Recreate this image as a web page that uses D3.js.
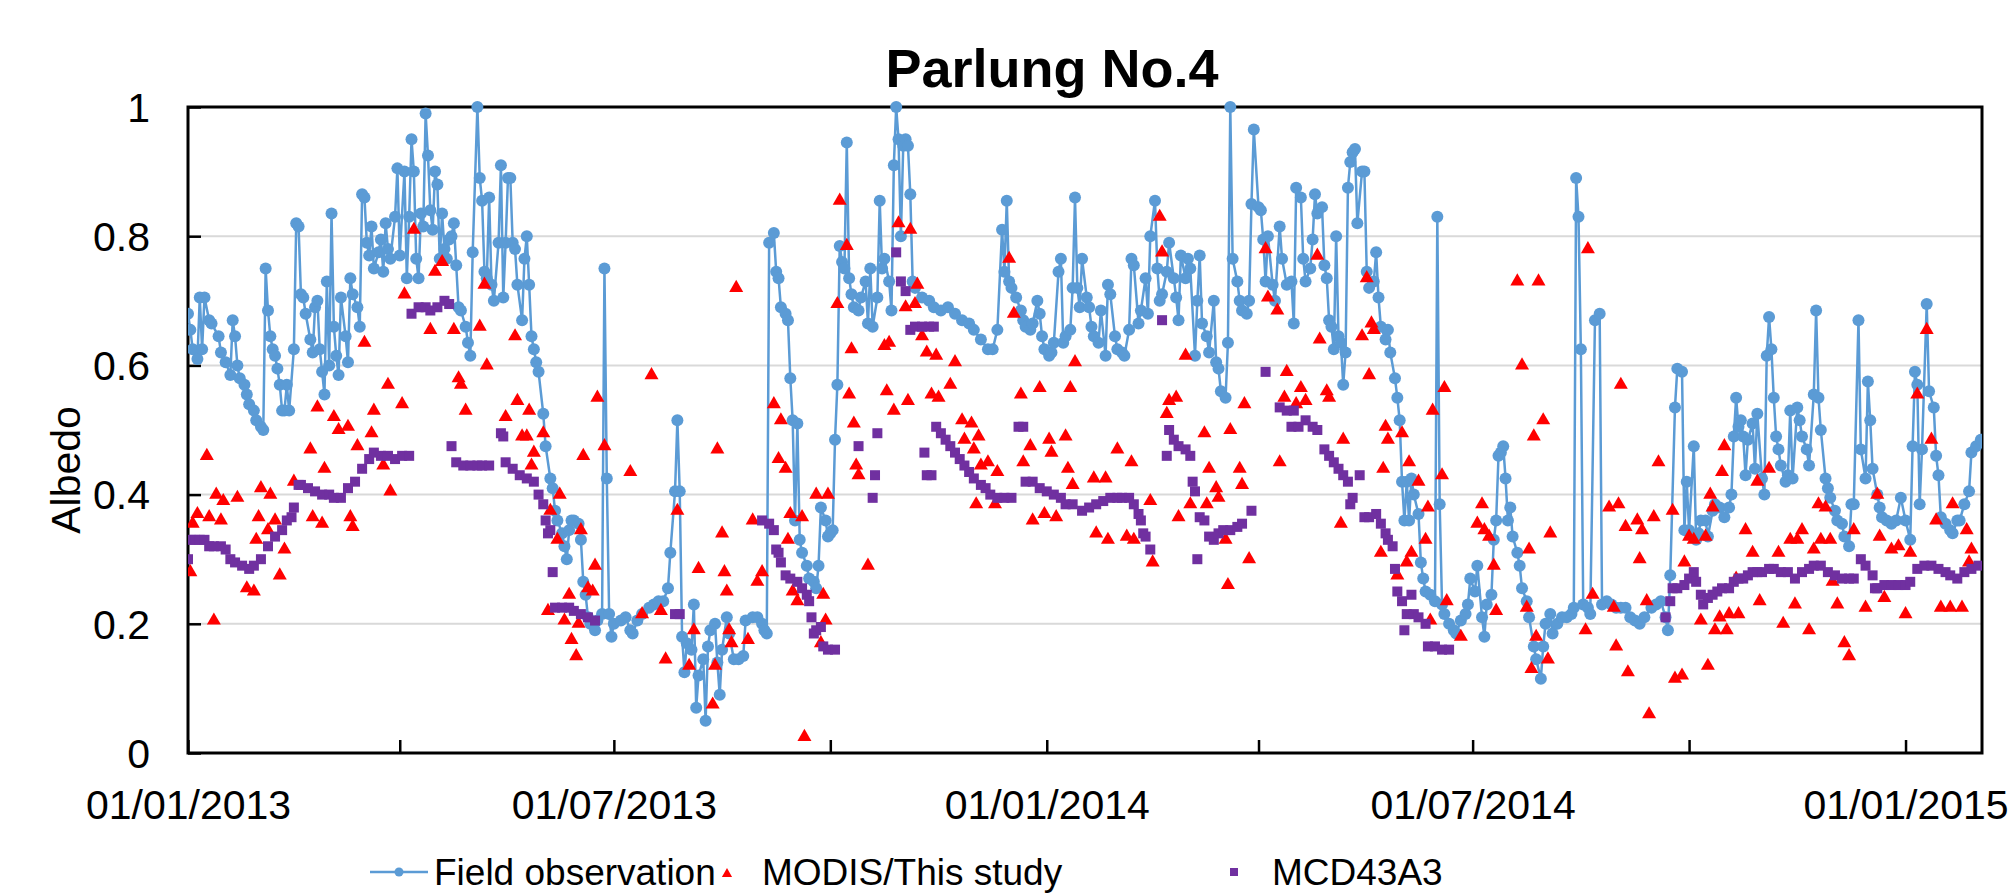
<!DOCTYPE html>
<html>
<head>
<meta charset="utf-8">
<script src="https://cdn.jsdelivr.net/npm/d3@7"></script>
<style>
  body { margin: 0; background: #fff; }
  text { font-family: "Liberation Sans", Arial, sans-serif; }
</style>
</head>
<body>
<svg id="chart" width="2014" height="894"></svg>
<script>
// values: [days since 01/01/2013, albedo]
const fieldObs = [[0,.68],[1,.655],[2,.625],[4,.61],[5,.705],[6,.625],[7,.705],[9,.67],[10,.665],[13,.645],[14,.62],[16,.605],[18,.585],[19,.67],[20,.645],[21,.60],[22,.58],[24,.57],[25,.555],[26,.54],[28,.53],[29,.515],[31,.505],[32,.50],[33,.75],[34,.685],[35,.645],[36,.625],[37,.615],[38,.595],[39,.57],[40,.53],[41,.53],[42,.57],[43,.53],[45,.625],[46,.82],[47,.815],[48,.71],[49,.705],[50,.68],[52,.64],[53,.62],[54,.69],[55,.70],[56,.625],[57,.59],[58,.555],[59,.73],[60,.60],[61,.835],[62,.66],[63,.615],[64,.585],[65,.705],[67,.645],[68,.605],[69,.735],[70,.71],[72,.69],[73,.66],[74,.865],[75,.86],[76,.79],[77,.77],[78,.815],[79,.75],[81,.775],[82,.795],[83,.745],[84,.82],[85,.78],[86,.765],[88,.83],[89,.905],[90,.77],[92,.90],[93,.735],[94,.83],[95,.95],[96,.90],[97,.765],[98,.735],[99,.835],[100,.815],[101,.99],[102,.925],[103,.84],[104,.81],[105,.90],[106,.88],[107,.765],[108,.835],[109,.78],[110,.765],[111,.795],[112,.80],[113,.82],[114,.755],[115,.69],[116,.685],[118,.66],[119,.635],[120,.615],[121,.775],[123,1.0],[124,.89],[125,.855],[126,.745],[127,.735],[128,.86],[129,.725],[130,.70],[132,.79],[133,.91],[134,.705],[135,.79],[136,.89],[137,.89],[138,.79],[139,.78],[140,.725],[142,.67],[143,.765],[144,.80],[145,.725],[146,.645],[147,.625],[148,.605],[149,.59],[151,.525],[152,.475],[154,.425],
  [155,.41],[156,.375],[157,.36],[159,.34],[160,.32],[161,.30],[162,.345],[163,.36],[164,.36],[166,.355],[167,.33],[168,.265],[169,.245],[170,.21],[171,.20],[173,.19],[174,.205],[176,.215],[177,.75],[178,.425],[179,.215],[180,.18],[181,.20],[184,.205],[186,.21],[188,.19],[189,.185],[191,.205],[193,.215],[196,.225],[198,.23],[200,.235],[202,.235],[204,.255],[205,.31],[207,.405],[208,.515],[209,.405],[210,.18],[211,.125],[212,.17],[214,.16],[215,.23],[216,.07],[217,.12],[219,.145],[220,.05],[221,.165],[222,.19],[224,.20],[225,.14],[226,.09],[227,.16],[229,.21],[230,.185],[232,.145],[234,.145],[236,.15],[237,.205],[240,.21],[242,.21],[244,.20],[245,.19],[246,.185],[247,.79],[249,.805],[250,.745],[251,.735],[252,.69],[254,.68],[255,.67],[256,.58],[257,.515],[258,.36],[259,.51],[260,.33],[261,.31],[263,.29],[264,.27],[266,.265],[267,.255],[268,.29],[269,.38],[271,.36],[272,.335],[273,.34],[274,.345],[275,.485],[276,.57],[277,.785],[278,.76],[279,.75],[280,.945],[281,.735],[282,.71],[283,.69],[285,.685],[286,.705],[288,.73],[289,.665],[290,.75],[291,.66],[293,.705],[294,.855],[295,.75],[296,.765],[298,.73],[299,.685],[300,.91],[301,1.0],[302,.95],[303,.80],[304,.94],[305,.95],[306,.94],[307,.865],[308,.73],[309,.72],
  [312,.705],[315,.70],[317,.69],[320,.685],[323,.69],[326,.68],[329,.67],[332,.665],[334,.655],[337,.64],[340,.625],[342,.625],[344,.655],[346,.81],[347,.745],[348,.855],[349,.73],[350,.72],[352,.705],[354,.685],[355,.67],[356,.66],[358,.655],[359,.665],[361,.70],[362,.68],[363,.645],[364,.625],[366,.615],[367,.62],[368,.635],[370,.745],[371,.765],[372,.635],[373,.645],[375,.655],[376,.72],[377,.86],[378,.72],[379,.69],[380,.765],[382,.705],[383,.69],[384,.66],[385,.645],[387,.635],[388,.685],[390,.615],[391,.725],[392,.71],[394,.645],[395,.625],[397,.62],[398,.615],[400,.655],[401,.765],[402,.755],[404,.665],[405,.685],[407,.735],[408,.68],[409,.80],[411,.855],[412,.75],[413,.70],[414,.71],[416,.745],[417,.79],[419,.735],[420,.705],[421,.67],[422,.77],[424,.735],[425,.765],[426,.75],[428,.615],[429,.70],[430,.77],[431,.665],[433,.645],[434,.62],[436,.70],[437,.605],[438,.595],[439,.56],[441,.55],[442,.635],[443,1.0],[444,.765],[446,.73],[447,.70],[448,.685],[450,.68],[451,.70],[452,.85],[453,.965],[455,.845],[456,.84],[457,.795],[458,.73],[459,.80],
  [461,.725],[462,.70],[464,.815],[465,.765],[467,.725],[469,.73],[470,.665],[471,.875],[473,.86],[474,.765],[475,.73],[477,.75],[478,.795],[479,.865],[480,.835],[482,.845],[483,.755],[484,.735],[485,.67],[486,.66],[487,.625],[488,.80],[489,.645],[490,.635],[491,.57],[492,.62],[493,.875],[494,.915],[495,.93],[496,.935],[497,.82],[499,.90],[500,.90],[501,.745],[502,.72],[504,.73],[505,.775],[506,.705],[507,.66],[509,.64],[510,.655],[511,.62],[513,.58],[514,.55],[515,.515],[516,.42],[517,.36],[518,.42],[519,.36],[520,.425],[521,.40],[523,.37],[524,.295],[525,.27],[526,.25],[528,.245],[530,.235],[531,.83],[532,.385],[533,.23],[534,.215],[536,.20],[538,.19],[539,.185],[541,.205],[543,.215],[544,.23],[545,.27],[547,.25],[548,.29],[550,.21],[551,.18],[552,.23],[554,.245],[555,.33],[556,.36],[557,.46],[558,.465],[559,.475],[560,.425],[561,.36],[562,.38],[563,.335],[565,.31],[566,.29],[567,.255],[569,.235],[570,.21],[572,.165],[573,.145],[575,.115],[576,.165],[577,.20],[579,.215],[580,.185],[582,.20],[584,.21],[586,.21],[588,.215],[589,.225],[590,.89],[591,.83],[592,.625],[593,.23],[595,.225],[596,.215],[598,.67],[600,.68],[601,.23],[603,.235],[605,.23],[607,.225],[609,.225],[611,.225],
  [613,.21],[615,.205],[617,.20],[619,.21],[622,.225],[624,.23],[626,.235],[628,.21],[629,.19],[630,.275],[632,.535],[633,.595],[635,.59],[636,.345],[637,.42],[638,.345],[640,.475],[641,.33],[642,.34],[643,.36],[645,.36],[646,.335],[648,.375],[649,.385],[651,.38],[653,.365],[655,.38],[656,.40],[657,.49],[658,.55],[659,.505],[660,.515],[661,.49],[662,.43],[663,.485],[665,.51],[666,.44],[667,.525],[669,.425],[670,.40],[671,.615],[672,.675],[673,.625],[674,.55],[675,.49],[676,.47],[677,.445],[679,.42],[680,.43],[681,.53],[682,.425],[684,.535],[685,.515],[686,.49],[688,.47],[689,.445],[691,.555],[692,.685],[693,.55],[694,.50],[696,.425],[697,.41],[698,.395],[700,.375],[701,.36],[703,.355],[704,.335],[706,.32],[707,.385],[708,.385],[710,.67],[711,.47],[713,.425],[714,.575],[715,.515],[716,.44],[718,.40],[719,.38],[720,.365],[722,.36],[724,.355],[726,.36],[728,.395],[730,.36],[732,.33],[733,.475],[734,.59],[735,.57],[736,.385],[737,.47],[739,.695],[740,.56],[742,.535],[743,.46],[744,.43],[745,.365],[747,.355],[749,.345],[750,.34],[752,.36],[753,.36],[755,.385],[757,.405],[758,.465],[760,.475],[762,.485]];

const modisStudy = [[1,.28],[2,.355],[4,.37],[8,.46],[9,.365],[11,.205],[12,.40],[14,.36],[15,.39],[21,.395],[25,.255],[28,.25],[29,.33],[30,.365],[31,.41],[34,.345],[35,.40],[37,.36],[39,.275],[41,.315],[45,.42],[52,.47],[53,.365],[55,.535],[57,.355],[58,.44],[62,.52],[64,.50],[68,.505],[69,.365],[70,.35],[72,.475],[75,.635],[78,.495],[79,.53],[83,.445],[85,.57],[86,.405],[91,.54],[92,.71],[96,.81],[103,.655],[105,.745],[108,.76],[113,.655],[115,.58],[116,.57],[118,.53],[124,.66],[126,.725],[127,.60],[135,.52],[139,.645],[140,.545],[142,.49],[144,.49],[145,.53],[146,.445],[147,.465],[151,.495],[153,.22],
  [154,.375],[157,.33],[158,.40],[160,.205],[162,.245],[163,.175],[165,.15],[166,.20],[167,.345],[168,.46],[170,.255],[172,.25],[173,.29],[174,.55],[177,.475],[188,.435],[193,.215],[197,.585],[201,.22],[203,.145],[208,.375],[213,.135],[215,.19],[217,.285],[223,.075],[224,.135],[225,.47],[227,.34],[228,.28],[229,.25],[230,.19],[231,.17],[233,.72],[238,.175],[240,.36],[242,.265],[244,.28],[249,.54],[251,.455],[252,.515],[254,.44],[255,.33],[256,.37],[257,.25],[259,.235],[261,.365],[262,.025],[267,.40],[269,.17],[270,.245],[271,.205],[272,.40],[276,.695],[277,.855],[280,.785],[281,.555],[282,.625],[283,.51],[284,.445],[285,.43],[289,.29],[296,.63],[297,.56],[298,.635],[300,.53],[302,.82],[305,.69],[306,.545],
  [307,.81],[309,.695],[310,.725],[312,.645],[314,.62],[316,.555],[318,.615],[319,.55],[324,.57],[326,.605],[329,.515],[330,.485],[333,.51],[334,.47],[335,.385],[336,.49],[337,.445],[340,.45],[343,.385],[344,.435],[349,.765],[351,.68],[354,.555],[355,.45],[358,.475],[359,.36],[362,.565],[364,.37],[366,.485],[367,.465],[369,.365],[373,.49],[374,.44],[375,.565],[376,.415],[377,.605],[385,.425],[386,.34],[390,.425],[391,.33],[395,.47],[399,.335],[401,.45],[402,.33],[409,.39],[410,.295],[413,.83],[414,.775],[416,.525],[417,.545],[420,.55],[421,.365],[424,.615],[426,.385],[432,.495],[433,.385],[434,.44],[437,.41],[438,.395],[441,.33],[442,.26],[443,.50],[447,.44],[448,.415],[449,.54],[451,.30],[458,.78],[459,.705],
  [463,.685],[464,.45],[466,.55],[467,.59],[471,.54],[473,.565],[475,.545],[480,.77],[481,.64],[484,.56],[485,.55],[490,.355],[491,.485],[499,.645],[501,.735],[502,.585],[503,.665],[504,.655],[507,.31],[508,.44],[509,.505],[510,.485],[514,.275],[516,.495],[518,.295],[519,.45],[520,.31],[523,.42],[526,.33],[527,.38],[528,.205],[529,.53],[533,.43],[534,.565],[535,.235],[541,.18],[548,.355],[550,.385],[551,.345],[553,.335],[555,.29],[556,.22],[565,.73],[567,.60],[569,.225],[570,.315],[571,.13],[572,.49],[573,.18],[574,.73],[576,.515],[578,.145],[579,.34],[594,.19],[595,.78],[597,.245],[604,.38],[606,.225],[607,.165],[608,.385],[609,.57],[611,.35],[612,.125],
  [616,.36],[617,.30],[618,.345],[620,.235],[621,.06],[623,.365],[625,.45],[631,.375],[632,.115],[635,.12],[636,.295],[638,.335],[640,.33],[643,.205],[645,.335],[646,.135],[647,.40],[648,.38],[649,.19],[651,.21],[652,.435],[653,.475],[654,.19],[655,.215],[658,.27],[659,.215],[662,.345],[665,.31],[667,.42],[668,.235],[672,.44],[676,.31],[678,.20],[681,.33],[683,.23],[684,.33],[686,.345],[689,.19],[691,.315],[693,.385],[694,.33],[696,.38],[698,.33],[699,.265],[701,.23],[704,.17],[706,.15],[708,.345],[713,.225],[718,.40],[719,.335],[721,.24],[724,.315],[727,.32],[730,.215],[732,.31],[735,.555],[739,.655],[741,.485],[743,.36],[745,.225],[749,.225],[750,.385],[754,.225],[756,.345],[757,.295],[758,.315]];

const mcd43a3 = [[0,.30],[1,.33],[3,.33],[5,.33],[7,.33],[9,.32],[11,.32],[14,.32],[16,.315],[18,.30],[20,.295],[23,.29],[26,.285],[28,.29],[31,.30],[34,.32],[37,.335],[40,.345],[42,.36],[44,.365],[45,.38],[47,.415],[48,.415],[51,.41],[54,.405],[57,.40],[60,.40],[62,.395],[65,.395],[68,.41],[71,.42],[74,.44],[77,.455],[79,.465],[82,.46],[85,.46],[88,.455],[91,.46],[94,.46],[95,.68],[98,.69],[101,.69],[103,.685],[106,.69],[109,.70],[111,.695],[112,.475],[114,.45],[117,.445],[120,.445],[123,.445],[125,.445],[128,.445],[133,.495],[134,.49],[135,.45],[138,.44],[141,.43],[144,.425],[147,.42],[149,.40],[151,.385],[152,.36],[153,.34],[154,.345],[155,.28],[156,.225],[159,.225],[162,.225],[164,.22],[167,.215],[170,.21],[173,.205],[207,.215],[209,.215],
  [244,.36],[247,.355],[249,.345],[250,.315],[251,.31],[252,.295],[254,.275],[256,.27],[259,.265],[261,.255],[263,.245],[264,.235],[265,.21],[266,.185],[267,.19],[269,.195],[270,.165],[272,.16],[275,.16],[285,.475],[291,.395],[292,.43],[293,.495],[301,.775],[303,.73],[305,.715],[307,.655],[309,.66],[312,.66],[313,.465],[314,.43],[315,.66],[316,.43],[317,.66],[318,.505],[320,.495],[322,.485],[324,.475],[326,.465],[328,.455],[330,.445],[332,.435],[334,.425],[337,.415],[339,.41],[341,.40],[344,.395],[347,.395],[350,.395],[353,.505],[355,.505],[356,.42],[359,.42],[362,.41],[365,.405],[368,.40],[371,.395],[373,.385],[376,.385],[380,.375],[383,.38],[386,.385],[389,.39],[392,.395],[395,.395],[397,.395],[400,.395],[402,.385],[404,.37],[405,.36],[406,.34],[407,.335],[409,.315],
  [414,.67],[416,.46],[417,.50],[419,.485],[421,.475],[424,.47],[426,.46],[427,.42],[428,.405],[429,.30],[430,.365],[432,.36],[434,.335],[436,.33],[438,.34],[440,.345],[443,.345],[446,.35],[448,.355],[452,.375],[458,.59],[464,.535],[467,.53],[469,.505],[470,.53],[472,.505],[475,.515],[478,.505],[480,.50],[483,.47],[485,.46],[487,.45],[489,.44],[491,.43],[493,.42],[494,.385],[495,.395],[498,.43],[500,.365],[502,.365],[505,.37],[507,.355],[509,.34],[510,.33],[512,.32],[513,.285],[514,.25],[516,.235],[517,.19],[518,.215],[520,.245],[521,.215],[523,.21],[526,.20],[527,.165],[530,.165],[533,.16],[536,.16],
  [628,.21],[630,.235],[631,.255],[633,.255],[636,.26],[638,.27],[640,.28],[641,.265],[643,.245],[644,.23],[646,.24],[648,.245],[650,.25],[652,.255],[655,.255],[657,.265],[659,.27],[661,.27],[663,.275],[665,.28],[667,.28],[669,.28],[672,.285],[674,.285],[677,.28],[680,.28],[683,.27],[686,.28],[689,.285],[691,.29],[694,.29],[697,.28],[700,.275],[703,.27],[706,.27],[708,.27],[711,.30],[713,.29],[716,.275],[717,.255],[718,.255],[721,.26],[724,.26],[727,.26],[730,.26],[732,.265],[735,.285],[738,.29],[741,.29],[744,.285],[747,.28],[749,.275],[752,.27],[755,.28],[758,.285],[761,.29]];

const yTicks = [0, 0.2, 0.4, 0.6, 0.8, 1];
const xTickDates = ["2013-01-01","2013-04-01","2013-07-01","2013-10-01","2014-01-01","2014-04-01","2014-07-01","2014-10-01","2015-01-01"];
const xLabelDates = ["2013-01-01","2013-07-01","2014-01-01","2014-07-01","2015-01-01"];
const seriesNames = ["Field observation", "MODIS/This study", "MCD43A3"];

const blue = "#5b9bd5", red = "#ff0000", purple = "#7030a0";

const base = Date.UTC(2013, 0, 1);
const toDate = d => new Date(base + d * 864e5);
const parse = d3.utcParse("%Y-%m-%d");

const svg = d3.select("#chart");

const x = d3.scaleUtc()
    .domain([toDate(0), toDate(762.5)])
    .range([188, 1982]);

const y = d3.scaleLinear()
    .domain([0, 1])
    .range([753, 107]);

// gridlines
svg.append("g").selectAll("line")
    .data(yTicks.filter(v => v > 0 && v < 1))
    .join("line")
    .attr("x1", 188).attr("x2", 1982)
    .attr("y1", d => y(d)).attr("y2", d => y(d))
    .attr("stroke", "#d9d9d9").attr("stroke-width", 2);

// y axis
const yAxis = svg.append("g")
    .attr("transform", "translate(188,0)")
    .call(d3.axisLeft(y).tickValues(yTicks).tickSize(-13).tickPadding(38)
        .tickFormat(d => String(+d.toFixed(1))));
yAxis.select(".domain").remove();
yAxis.attr("font-size", 41).attr("font-family", null);
yAxis.selectAll("line").attr("stroke", "#000").attr("stroke-width", 2.5);
yAxis.selectAll("text").attr("fill", "#000").attr("dy", "0.35em");

// x axis
const labelSet = new Set(xLabelDates.map(s => +parse(s)));
const fmt = d3.utcFormat("%d/%m/%Y");
const xAxis = svg.append("g")
    .attr("transform", "translate(0,753)")
    .call(d3.axisBottom(x).tickValues(xTickDates.map(parse)).tickSize(-13)
        .tickFormat(d => labelSet.has(+d) ? fmt(d) : ""));
xAxis.select(".domain").remove();
xAxis.attr("font-size", 41).attr("font-family", null);
xAxis.selectAll("line").attr("stroke", "#000").attr("stroke-width", 2.5);
xAxis.selectAll("text").attr("fill", "#000").attr("y", 66).attr("dy", 0);

// plot border
svg.append("rect")
    .attr("x", 188).attr("y", 107).attr("width", 1794).attr("height", 646)
    .attr("fill", "none").attr("stroke", "#000").attr("stroke-width", 3);

// series
svg.append("clipPath").attr("id", "clip")
    .append("rect").attr("x", 188).attr("y", 90).attr("width", 1794).attr("height", 680);
const plot = svg.append("g").attr("clip-path", "url(#clip)");

const line = d3.line()
    .x(d => x(toDate(d[0])))
    .y(d => y(d[1]));

plot.append("path")
    .attr("d", line(fieldObs))
    .attr("fill", "none").attr("stroke", blue).attr("stroke-width", 2.5);

plot.append("g").selectAll("circle")
    .data(fieldObs).join("circle")
    .attr("cx", d => x(toDate(d[0]))).attr("cy", d => y(d[1]))
    .attr("r", 6).attr("fill", blue);

const tri = d3.symbol(d3.symbolTriangle, 85);
plot.append("g").selectAll("path")
    .data(modisStudy).join("path")
    .attr("d", tri)
    .attr("transform", d => `translate(${x(toDate(d[0]))},${y(d[1])})`)
    .attr("fill", red);

plot.append("g").selectAll("rect")
    .data(mcd43a3).join("rect")
    .attr("x", d => x(toDate(d[0])) - 5).attr("y", d => y(d[1]) - 5)
    .attr("width", 10).attr("height", 10)
    .attr("fill", purple);

// title
svg.append("text")
    .attr("x", 1052).attr("y", 87)
    .attr("text-anchor", "middle")
    .attr("font-size", 54).attr("font-weight", "bold")
    .text("Parlung No.4");

// y label
svg.append("text")
    .attr("transform", "translate(80,470) rotate(-90)")
    .attr("text-anchor", "middle")
    .attr("font-size", 41)
    .text("Albedo");

// legend
const leg = svg.append("g").attr("font-size", 37);
leg.append("line").attr("x1", 370).attr("x2", 428).attr("y1", 872).attr("y2", 872)
    .attr("stroke", blue).attr("stroke-width", 2.5);
leg.append("circle").attr("cx", 399).attr("cy", 872).attr("r", 4.5).attr("fill", blue);
leg.append("text").attr("x", 434).attr("y", 885).text(seriesNames[0]);

leg.append("path").attr("d", d3.symbol(d3.symbolTriangle, 45))
    .attr("transform", "translate(727,874)").attr("fill", red);
leg.append("text").attr("x", 762).attr("y", 885).text(seriesNames[1]);

leg.append("rect").attr("x", 1230).attr("y", 868).attr("width", 8).attr("height", 8).attr("fill", purple);
leg.append("text").attr("x", 1272).attr("y", 885).text(seriesNames[2]);
</script>
</body>
</html>
